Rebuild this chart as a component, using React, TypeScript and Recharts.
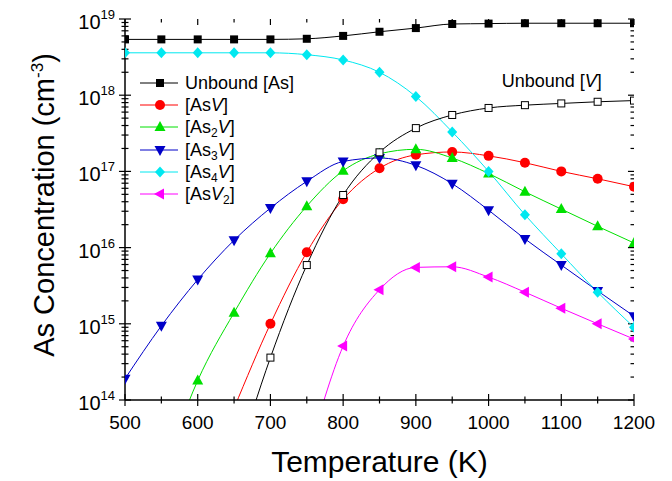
import React from 'react';
import { LineChart, Line, XAxis, YAxis, Legend, ReferenceDot, ReferenceLine } from 'recharts';

const FONT = '"Liberation Sans", Arial, sans-serif';

// temperatures (K), one row per 50 K
const TEMPS = [500, 550, 600, 650, 700, 750, 800, 850, 900, 950, 1000, 1050, 1100, 1150, 1200];

// concentrations (cm^-3); values under 1e14 only carry the line down to the axis
const UNBOUND_AS = [5.4e18, 5.4e18, 5.4e18, 5.4e18, 5.4e18, 5.5e18, 6.0e18, 6.8e18, 7.6e18, 8.6e18, 8.7e18, 8.8e18, 8.8e18, 8.8e18, 8.8e18];
const AS_V = [null, null, null, 7.8e13, 1.0e15, 8.7e15, 4.3e16, 1.1e17, 1.65e17, 1.8e17, 1.6e17, 1.3e17, 1.0e17, 8.0e16, 6.3e16];
const AS2_V = [null, 1.0e13, 1.8e14, 1.4e15, 8.4e15, 3.5e16, 1.02e17, 1.7e17, 1.95e17, 1.5e17, 9.4e16, 5.4e16, 3.2e16, 1.9e16, 1.15e16];
const AS3_V = [1.9e14, 9.4e14, 3.8e15, 1.25e16, 3.3e16, 7.4e16, 1.35e17, 1.5e17, 1.2e17, 6.9e16, 3.1e16, 1.3e16, 5.9e15, 2.7e15, 1.26e15];
const AS4_V = [3.6e18, 3.6e18, 3.6e18, 3.6e18, 3.6e18, 3.4e18, 2.9e18, 2.0e18, 9.6e17, 3.3e17, 1.0e17, 2.7e16, 8.3e15, 2.6e15, 9.0e14];
const AS_V2 = [null, null, null, null, null, 1.7e13, 5.1e14, 2.8e15, 5.5e15, 5.6e15, 4.1e15, 2.6e15, 1.6e15, 1.0e15, 6.3e14];
const UNBOUND_V = [null, null, null, 1.2e13, 3.6e14, 5.9e15, 4.9e16, 1.78e17, 3.7e17, 5.5e17, 6.8e17, 7.4e17, 7.8e17, 8.2e17, 8.5e17];

const X_LABELS = [500, 600, 700, 800, 900, 1000, 1100, 1200];
const X_MIN = 500;
const X_MAX = 1200;
const Y_MIN = 1e14;
const Y_MAX = 1e19;
const Y_TICKS: number[] = [];
for (let e = 14; e < 19; e++) for (let m = 1; m < 10; m++) Y_TICKS.push(m * Math.pow(10, e));
Y_TICKS.push(Y_MAX);

const data = TEMPS.map((t, i) => ({
  t,
  unboundAs: UNBOUND_AS[i],
  asV: AS_V[i],
  as2V: AS2_V[i],
  as3V: AS3_V[i],
  as4V: AS4_V[i],
  asV2: AS_V2[i],
  unboundV: UNBOUND_V[i],
}));

type Shape = 'square' | 'circle' | 'up' | 'down' | 'diamond' | 'left' | 'open';

const Marker = ({ shape, cx, cy, color }: { shape: Shape; cx: number; cy: number; color: string }) => {
  switch (shape) {
    case 'square':
      return <rect x={cx - 4} y={cy - 4} width={8} height={8} fill={color} />;
    case 'circle':
      return <circle cx={cx} cy={cy} r={5} fill={color} />;
    case 'up':
      return <polygon points={`${cx},${cy - 6} ${cx - 5.5},${cy + 4} ${cx + 5.5},${cy + 4}`} fill={color} />;
    case 'down':
      return <polygon points={`${cx},${cy + 6} ${cx - 5.5},${cy - 4} ${cx + 5.5},${cy - 4}`} fill={color} />;
    case 'diamond':
      return <polygon points={`${cx},${cy - 5.5} ${cx + 5},${cy} ${cx},${cy + 5.5} ${cx - 5},${cy}`} fill={color} />;
    case 'left':
      return <polygon points={`${cx - 6},${cy} ${cx + 4},${cy - 5.5} ${cx + 4},${cy + 5.5}`} fill={color} />;
    default:
      return <rect x={cx - 3.5} y={cy - 3.5} width={7} height={7} fill="#fff" stroke={color} strokeWidth={1} />;
  }
};

const makeDot = (shape: Shape, color: string) => (props: any) => {
  const { cx, cy, value, index } = props;
  if (cx == null || cy == null || value == null || value < Y_MIN) return <g key={`d-${index}`} />;
  return <Marker key={`d-${index}`} shape={shape} cx={cx} cy={cy} color={color} />;
};

const V = () => <i>V</i>;
const Sub = ({ n }: { n: string }) => (
  <span style={{ fontSize: 12, position: 'relative', top: 4, lineHeight: '12px' }}>{n}</span>
);

const SERIES: { key: string; color: string; shape: Shape; label: React.ReactNode | null }[] = [
  { key: 'unboundAs', color: '#000000', shape: 'square', label: <>Unbound [As]</> },
  { key: 'asV', color: '#ff0000', shape: 'circle', label: <>[As<V />]</> },
  { key: 'as2V', color: '#00e000', shape: 'up', label: <>[As<Sub n="2" /><V />]</> },
  { key: 'as3V', color: '#0000c8', shape: 'down', label: <>[As<Sub n="3" /><V />]</> },
  { key: 'as4V', color: '#00e8f0', shape: 'diamond', label: <>[As<Sub n="4" /><V />]</> },
  { key: 'asV2', color: '#ff00ff', shape: 'left', label: <>[As<V /><Sub n="2" />]</> },
  { key: 'unboundV', color: '#000000', shape: 'open', label: null },
];

const isMajor = (v: number) => Math.abs(Math.log10(v) - Math.round(Math.log10(v))) < 1e-9;

const AXIS_LINE = { stroke: '#000', strokeWidth: 1.5 };

// tick mark lengths in axis units (about 6 px major, 3.5 px minor)
const X_TICK_MAJOR = 8.3;
const X_TICK_MINOR = 4.8;
const Y_TICK_MAJOR = Math.pow(10, 0.079);
const Y_TICK_MINOR = Math.pow(10, 0.046);

const BottomLabel = (props: any) => {
  const { x, y, payload } = props;
  if (!X_LABELS.includes(payload.value)) return <g />;
  return (
    <text x={x} y={y + 29} textAnchor="middle" fontSize={19} fontFamily={FONT} fill="#000">
      {payload.value}
    </text>
  );
};

const LeftLabel = (props: any) => {
  const { x, y, payload } = props;
  if (!isMajor(payload.value)) return <g />;
  const exp = Math.round(Math.log10(payload.value));
  return (
    <text x={x - 10} y={y + 10} textAnchor="end" fontFamily={FONT} fill="#000" fontSize={20}>
      10
      <tspan dy={-10} fontSize={13}>{exp}</tspan>
    </text>
  );
};

const LegendBox = () => (
  <div style={{ fontFamily: FONT, fontSize: 18, color: '#000' }}>
    {SERIES.filter((s) => s.label).map((s) => (
      <div key={s.key} style={{ display: 'flex', alignItems: 'center', height: 22.2, lineHeight: '20px' }}>
        <svg width={45} height={22} style={{ display: 'block' }}>
          <line x1={0} y1={11} x2={38} y2={11} stroke={s.color} strokeWidth={1} />
          <Marker shape={s.shape} cx={20} cy={11} color={s.color} />
        </svg>
        <span style={{ whiteSpace: 'nowrap' }}>{s.label}</span>
      </div>
    ))}
  </div>
);

// bottom and left ticks cross the axis, top and right ones point inward
const tickSegments = () => {
  const segs: { key: string; seg: { x: number; y: number }[] }[] = [];
  TEMPS.forEach((t) => {
    const f = X_LABELS.includes(t) ? Y_TICK_MAJOR : Y_TICK_MINOR;
    segs.push({ key: `b${t}`, seg: [{ x: t, y: Y_MIN / f }, { x: t, y: Y_MIN * f }] });
    segs.push({ key: `t${t}`, seg: [{ x: t, y: Y_MAX }, { x: t, y: Y_MAX / f }] });
  });
  Y_TICKS.forEach((v) => {
    const d = isMajor(v) ? X_TICK_MAJOR : X_TICK_MINOR;
    segs.push({ key: `l${v}`, seg: [{ x: X_MIN - d, y: v }, { x: X_MIN + d, y: v }] });
    segs.push({ key: `r${v}`, seg: [{ x: X_MAX, y: v }, { x: X_MAX - d, y: v }] });
  });
  return segs;
};

export default function App() {
  return (
    <div style={{ position: 'absolute', left: 0, top: 0, background: '#fff' }}>
      <LineChart width={672} height={481} data={data} margin={{ top: 19, right: 38, left: 0, bottom: 0 }}>
        <XAxis
          dataKey="t"
          type="number"
          domain={[X_MIN, X_MAX]}
          ticks={TEMPS}
          interval={0}
          allowDataOverflow
          height={81}
          tickSize={0}
          tickMargin={0}
          tickLine={false}
          tick={<BottomLabel />}
          axisLine={AXIS_LINE}
          label={{
            content: (p: any) => (
              <text
                x={p.viewBox.x + p.viewBox.width / 2}
                y={p.viewBox.y + 72}
                textAnchor="middle"
                fontSize={30}
                fontFamily={FONT}
                fill="#000"
              >
                Temperature (K)
              </text>
            ),
          }}
        />
        <XAxis
          xAxisId="top"
          orientation="top"
          dataKey="t"
          type="number"
          domain={[X_MIN, X_MAX]}
          height={0}
          tick={false}
          tickLine={false}
          axisLine={AXIS_LINE}
        />
        <YAxis
          scale="log"
          type="number"
          domain={[Y_MIN, Y_MAX]}
          ticks={Y_TICKS}
          interval={0}
          allowDataOverflow
          width={125}
          tickSize={0}
          tickMargin={0}
          tickLine={false}
          tick={<LeftLabel />}
          axisLine={AXIS_LINE}
          label={{
            content: () => (
              <text
                transform="translate(54,205) rotate(-90)"
                textAnchor="middle"
                fontSize={29}
                fontFamily={FONT}
                fill="#000"
              >
                As Concentration (cm
                <tspan dy={-11} fontSize={17}>-3</tspan>
                <tspan dy={11}>)</tspan>
              </text>
            ),
          }}
        />
        <YAxis
          yAxisId="right"
          orientation="right"
          scale="log"
          type="number"
          domain={[Y_MIN, Y_MAX]}
          width={0}
          tick={false}
          tickLine={false}
          axisLine={AXIS_LINE}
        />
        <Legend
          layout="vertical"
          align="center"
          verticalAlign="middle"
          content={() => <LegendBox />}
          wrapperStyle={{ left: 140, top: 72, width: 'auto' }}
        />
        {tickSegments().map((s) => (
          <ReferenceLine key={s.key} segment={s.seg} stroke="#000" strokeWidth={1.2} ifOverflow="visible" />
        ))}
        {SERIES.map((s) => (
          <Line
            key={s.key}
            dataKey={s.key}
            type="monotone"
            stroke={s.color}
            strokeWidth={1}
            dot={makeDot(s.shape, s.color)}
            activeDot={false}
            isAnimationActive={false}
            legendType="none"
          />
        ))}
        <ReferenceDot
          x={1087}
          y={1.28e18}
          r={0}
          shape={(p: any) => (
            <text x={p.cx} y={p.cy} textAnchor="middle" fontSize={18} fontFamily={FONT} fill="#000">
              Unbound [<tspan fontStyle="italic">V</tspan>]
            </text>
          )}
        />
      </LineChart>
    </div>
  );
}
